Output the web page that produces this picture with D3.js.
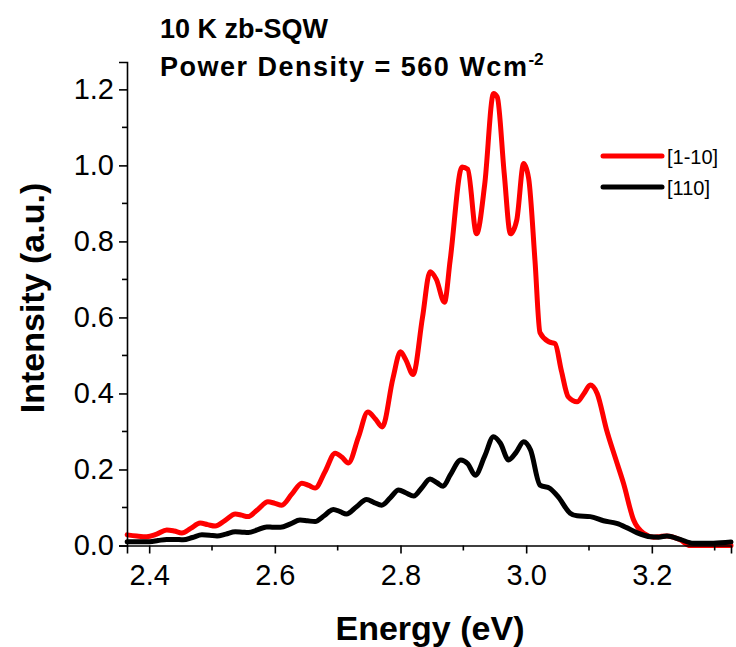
<!DOCTYPE html>
<html>
<head>
<meta charset="utf-8">
<script src="https://cdn.jsdelivr.net/npm/d3@7"></script>
<style>
  body { margin: 0; background: #fff; }
  svg { display: block; font-family: "Liberation Sans", Arial, sans-serif; }
</style>
</head>
<body>
<svg width="736" height="647"></svg>
<script>
// [1-10] polarisation (red)
const redEnergy = [2.365, 2.380, 2.396, 2.412, 2.428, 2.440, 2.452, 2.466, 2.481, 2.493, 2.505, 2.521, 2.537, 2.547, 2.557, 2.573, 2.589, 2.600, 2.611, 2.627, 2.643, 2.654, 2.664, 2.680, 2.696, 2.707, 2.717, 2.733, 2.748, 2.760, 2.771, 2.788, 2.800, 2.808, 2.820, 2.835, 2.847, 2.857, 2.870, 2.879, 2.898, 2.907, 2.921, 2.934, 2.948, 2.954, 2.965, 2.975, 2.985, 2.996, 3.004, 3.014, 3.022, 3.036, 3.046, 3.056, 3.067, 3.081, 3.092, 3.102, 3.113, 3.128, 3.142, 3.155, 3.171, 3.187, 3.203, 3.214, 3.224, 3.245, 3.261, 3.290, 3.326];
const redIntensity = [0.028, 0.025, 0.023, 0.030, 0.041, 0.038, 0.033, 0.045, 0.059, 0.055, 0.051, 0.066, 0.083, 0.080, 0.076, 0.095, 0.115, 0.111, 0.106, 0.135, 0.164, 0.158, 0.151, 0.195, 0.243, 0.232, 0.217, 0.285, 0.351, 0.333, 0.312, 0.440, 0.510, 0.490, 0.450, 0.600, 0.720, 0.700, 0.640, 0.750, 0.996, 0.990, 0.820, 0.950, 1.189, 1.180, 0.980, 0.820, 0.856, 1.005, 0.965, 0.750, 0.560, 0.536, 0.531, 0.460, 0.391, 0.378, 0.400, 0.422, 0.400, 0.304, 0.230, 0.163, 0.067, 0.032, 0.022, 0.024, 0.025, 0.015, 0.000, 0.000, 0.000];

// [110] polarisation (black)
const blackEnergy = [2.365, 2.385, 2.401, 2.414, 2.428, 2.441, 2.454, 2.469, 2.484, 2.496, 2.508, 2.522, 2.537, 2.548, 2.558, 2.572, 2.587, 2.598, 2.609, 2.625, 2.640, 2.652, 2.664, 2.679, 2.693, 2.704, 2.714, 2.730, 2.746, 2.758, 2.770, 2.784, 2.797, 2.809, 2.821, 2.834, 2.847, 2.858, 2.868, 2.879, 2.896, 2.907, 2.919, 2.934, 2.948, 2.959, 2.972, 2.984, 2.996, 3.007, 3.022, 3.038, 3.051, 3.070, 3.081, 3.102, 3.123, 3.144, 3.160, 3.176, 3.198, 3.211, 3.224, 3.245, 3.266, 3.298, 3.326];
const blackIntensity = [0.010, 0.010, 0.010, 0.013, 0.016, 0.016, 0.015, 0.021, 0.028, 0.027, 0.025, 0.030, 0.036, 0.035, 0.034, 0.041, 0.049, 0.048, 0.048, 0.057, 0.067, 0.065, 0.063, 0.079, 0.095, 0.089, 0.083, 0.102, 0.121, 0.113, 0.106, 0.126, 0.146, 0.138, 0.130, 0.152, 0.175, 0.165, 0.156, 0.185, 0.225, 0.215, 0.185, 0.235, 0.286, 0.269, 0.225, 0.245, 0.273, 0.251, 0.159, 0.150, 0.128, 0.085, 0.078, 0.076, 0.065, 0.058, 0.047, 0.034, 0.023, 0.022, 0.025, 0.016, 0.006, 0.006, 0.009];

const xMajor = [2.4, 2.6, 2.8, 3.0, 3.2];
const xMinor = [2.5, 2.7, 2.9, 3.1, 3.3];
const yMajor = [0.0, 0.2, 0.4, 0.6, 0.8, 1.0, 1.2];
const yMinor = [0.1, 0.3, 0.5, 0.7, 0.9, 1.1];

const seriesNames = ['[1-10]', '[110]'];
const seriesColors = ['#ff0000', '#000000'];

const plotLeft = 127, plotRight = 731, plotTop = 62, plotBottom = 545.5;

let svg = d3.select('svg');

let x = d3.scaleLinear().domain([2.3647, 3.326]).range([plotLeft, plotRight]);
let y = d3.scaleLinear().domain([0, 1.272]).range([plotBottom, plotTop]);

let line = d3.line()
  .x(d => x(d[0]))
  .y(d => y(d[1]))
  .curve(d3.curveMonotoneX);

const redData = d3.zip(redEnergy, redIntensity);
const blackData = d3.zip(blackEnergy, blackIntensity);

// curves: red first, black on top
[[redData, seriesColors[0]], [blackData, seriesColors[1]]].forEach(([data, c]) => {
  svg.append('path')
    .datum(data)
    .attr('fill', 'none')
    .attr('stroke', c)
    .attr('stroke-width', 5)
    .attr('stroke-linejoin', 'round')
    .attr('stroke-linecap', 'round')
    .attr('d', line);
});

// x axis
let gx = svg.append('g').attr('transform', `translate(0,${plotBottom})`);
gx.call(d3.axisBottom(x).tickValues(xMajor).tickFormat(d3.format('.1f')).tickSize(8).tickPadding(11))
gx.select('.domain').attr('stroke-width', 1.6);
gx.selectAll('.tick line').attr('stroke-width', 1.6);
gx.selectAll('.tick text').attr('font-size', 29).attr('fill', '#000');
gx.append('g').selectAll('line')
  .data(xMinor).enter().append('line')
  .attr('x1', d => x(d)).attr('x2', d => x(d))
  .attr('y1', 0).attr('y2', 5)
  .attr('stroke', '#000').attr('stroke-width', 1.6);

// y axis
let gy = svg.append('g').attr('transform', `translate(${plotLeft},0)`);
gy.call(d3.axisLeft(y).tickValues(yMajor).tickFormat(d3.format('.1f')).tickSize(8).tickPadding(5))
gy.select('.domain').attr('stroke-width', 1.6);
gy.selectAll('.tick line').attr('stroke-width', 1.6);
gy.selectAll('.tick text').attr('font-size', 29).attr('fill', '#000');
gy.append('g').selectAll('line')
  .data(yMinor).enter().append('line')
  .attr('x1', 0).attr('x2', -5)
  .attr('y1', d => y(d)).attr('y2', d => y(d))
  .attr('stroke', '#000').attr('stroke-width', 1.6);

// axis titles
svg.append('text')
  .attr('x', 430).attr('y', 640)
  .attr('text-anchor', 'middle')
  .attr('font-size', 34).attr('font-weight', 'bold')
  .text('Energy (eV)');

svg.append('text')
  .attr('transform', 'translate(44,298) rotate(-90)')
  .attr('text-anchor', 'middle')
  .attr('font-size', 34).attr('font-weight', 'bold')
  .text('Intensity (a.u.)');

// title lines
svg.append('text')
  .attr('x', 160).attr('y', 38)
  .attr('font-size', 27).attr('font-weight', 'bold')
  .text('10 K zb-SQW');

let t2 = svg.append('text')
  .attr('x', 160).attr('y', 76)
  .attr('font-size', 27).attr('font-weight', 'bold')
  .attr('letter-spacing', 1.5);
t2.append('tspan').text('Power Density = 560 Wcm');
t2.append('tspan').attr('font-size', 17).attr('dy', -11).attr('letter-spacing', 0).text('-2');

// legend
let legend = svg.append('g');
seriesNames.forEach((name, i) => {
  let ly = 156 + i * 31;
  legend.append('line')
    .attr('x1', 603).attr('x2', 662)
    .attr('y1', ly).attr('y2', ly)
    .attr('stroke', seriesColors[i])
    .attr('stroke-width', 5)
    .attr('stroke-linecap', 'round');
  legend.append('text')
    .attr('x', 667).attr('y', ly + 8)
    .attr('font-size', 20)
    .text(name);
});
</script>
</body>
</html>
